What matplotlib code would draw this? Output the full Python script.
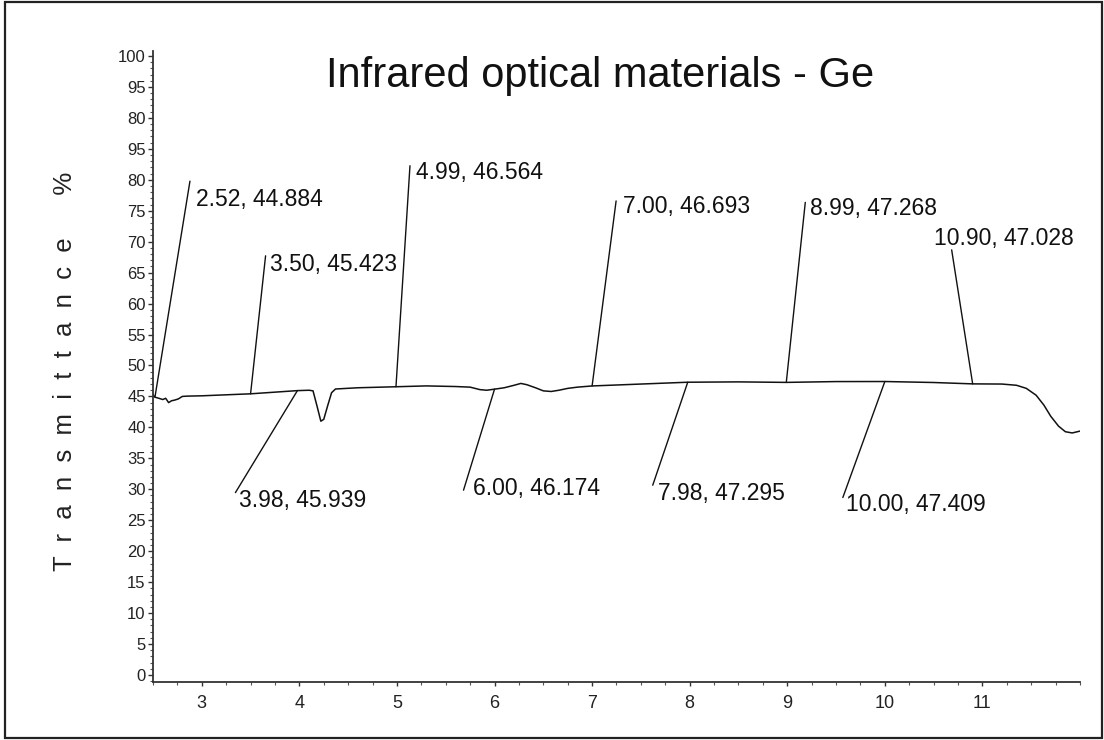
import matplotlib
matplotlib.use("Agg")
import matplotlib.pyplot as plt
from matplotlib.patches import Rectangle
from matplotlib.ticker import MultipleLocator, FixedLocator

plt.rcParams['font.family'] = ['Liberation Sans', 'DejaVu Sans']

# ---- data ----
wavelength = [2.50, 2.52, 2.56, 2.60, 2.63, 2.66, 2.69, 2.72, 2.76, 2.80, 2.85, 3.00,
              3.50, 3.98, 4.10, 4.14, 4.18, 4.22, 4.25, 4.29, 4.33, 4.37, 4.60, 4.99,
              5.30, 5.60, 5.75, 5.85, 5.92, 6.00, 6.10, 6.20, 6.27, 6.33, 6.42, 6.50,
              6.58, 6.66, 6.75, 6.85, 7.00, 7.50, 7.98, 8.50, 8.99, 9.50, 10.00, 10.50,
              10.90, 11.20, 11.35, 11.45, 11.55, 11.63, 11.70, 11.78, 11.85, 11.92, 12.00]
transmittance = [45.3, 44.884, 44.7, 44.5, 44.7, 44.0, 44.3, 44.4, 44.6, 45.0, 45.05, 45.1,
                 45.423, 45.939, 46.0, 45.9, 43.5, 41.0, 41.3, 43.5, 45.6, 46.2, 46.4, 46.564,
                 46.7, 46.6, 46.5, 46.1, 46.0, 46.174, 46.4, 46.8, 47.1, 46.9, 46.4, 45.9,
                 45.8, 46.0, 46.3, 46.5, 46.693, 47.0, 47.295, 47.35, 47.268, 47.4, 47.409, 47.25,
                 47.028, 47.0, 46.8, 46.3, 45.2, 43.6, 41.8, 40.2, 39.3, 39.1, 39.4]

# annotated points
ann_x = [2.52, 3.50, 4.99, 7.00, 8.99, 10.90, 3.98, 6.00, 7.98, 10.00]
ann_y = [44.884, 45.423, 46.564, 46.693, 47.268, 47.028, 45.939, 46.174, 47.295, 47.409]
ann_text = ["2.52, 44.884", "3.50, 45.423", "4.99, 46.564", "7.00, 46.693",
            "8.99, 47.268", "10.90, 47.028", "3.98, 45.939", "6.00, 46.174",
            "7.98, 47.295", "10.00, 47.409"]

y_ticks = list(range(0, 101, 5))
y_tick_labels = ['0', '5', '10', '15', '20', '25', '30', '35', '40', '45', '50',
                 '55', '60', '65', '70', '75', '80', '95', '80', '95', '100']
x_ticks = [3, 4, 5, 6, 7, 8, 9, 10, 11]
x_tick_labels = ['3', '4', '5', '6', '7', '8', '9', '10', '11']

title = "Infrared optical materials - Ge"
ylabel = "T  r  a  n  s  m  i  t  t  a  n  c  e      %"

# ---- layout (pixel offsets of leader-line ends and text baselines) ----
PX = 0.72  # points per pixel at 100 dpi
line_off = [(35, 216), (15, 138), (14, 221), (24, 185), (19, 180), (-21, 134),
            (-62, -102), (-31, -101), (-35, -103), (-42, -116)]
text_off = [(41, 191), (19, 123), (20, 208), (31, 173), (24, 167), (-39, 139),
            (-58, -116), (-22, -106), (-30, -118), (-39, -129)]

W, H = 1104, 740
fig = plt.figure(figsize=(W / 100, H / 100), dpi=100)
fig.patch.set_facecolor('white')

ax_l, ax_r, ax_b, ax_t = 153, 1080, 682, 51
ax = fig.add_axes([ax_l / W, (H - ax_b) / H, (ax_r - ax_l) / W, (ax_b - ax_t) / H])

ax.plot(wavelength, transmittance, color='#111111', lw=1.1, solid_joinstyle='round')

for x, y, t, lo, to in zip(ann_x, ann_y, ann_text, line_off, text_off):
    ax.annotate('', xy=(x, y), xytext=(lo[0] * PX, lo[1] * PX), textcoords='offset points',
                arrowprops=dict(arrowstyle='-', shrinkA=0, shrinkB=0, lw=1.0, color='#111111'))
    ax.annotate(t, xy=(x, y), xytext=(to[0] * PX, to[1] * PX), textcoords='offset points',
                ha='left', va='baseline', fontsize=16.5, color='#111111')

ax.set_xlim(2.5, 12.0)
ax.set_ylim(-1.13, 100.8)

ax.xaxis.set_major_locator(FixedLocator(x_ticks))
ax.set_xticklabels(x_tick_labels)
ax.xaxis.set_minor_locator(MultipleLocator(0.25))
ax.yaxis.set_major_locator(FixedLocator(y_ticks))
ax.set_yticklabels(y_tick_labels)
ax.yaxis.set_minor_locator(MultipleLocator(1))

for s in ['top', 'right']:
    ax.spines[s].set_visible(False)
for s in ['left', 'bottom']:
    ax.spines[s].set_linewidth(1.3)
    ax.spines[s].set_color('#333333')

ax.tick_params(axis='y', which='major', direction='out', length=3.8, width=1.0,
               color='#333333', labelsize=12, pad=1.5, labelcolor='#222222')
ax.tick_params(axis='y', which='minor', direction='out', length=2.2, width=0.8, color='#555555')
ax.tick_params(axis='x', which='major', direction='out', length=3.0, width=1.0,
               color='#333333', labelsize=13, pad=6, labelcolor='#222222')
ax.tick_params(axis='x', which='minor', direction='out', length=2.2, width=0.8, color='#555555')

fig.text(600.5 / W, (H - 87) / H, title, ha='center', va='baseline', fontsize=30, color='#111111')
fig.text(65 / W, (H - 371) / H, ylabel, rotation=90, ha='center', va='center',
         fontsize=18.5, color='#222222')

fig.add_artist(Rectangle((5 / W, 2 / H), 1097 / W, 736 / H, transform=fig.transFigure,
                         fill=False, lw=1.6, edgecolor='#222222'))

fig.savefig('out.png', dpi=100, facecolor='white')
